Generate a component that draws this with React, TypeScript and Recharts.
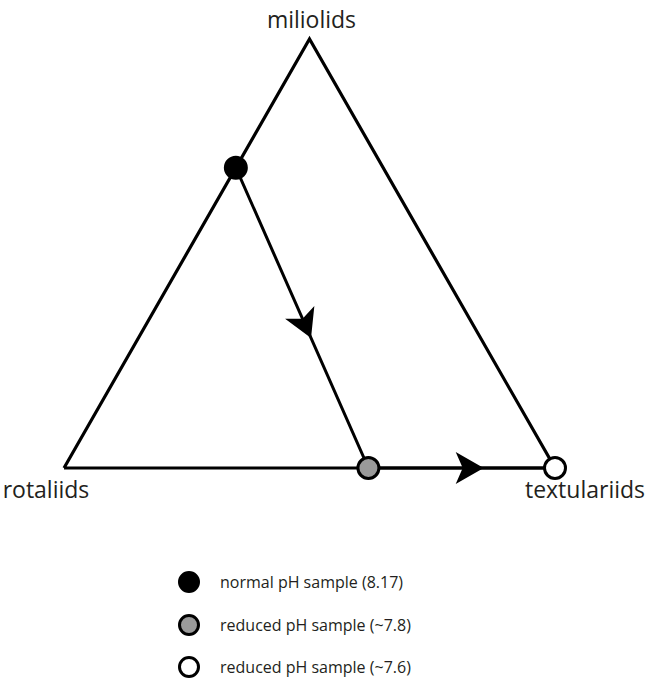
import { ComposedChart, Scatter, XAxis, YAxis, Legend } from 'recharts'

// end members of the ternary plot
const cornerNames = ['rotaliids', 'miliolids', 'textulariids']
const cornerMiliolids = [0, 1, 0]
const cornerTextulariids = [0, 0, 1]

// samples (fractions of the assemblage)
const sampleLabels = ['normal pH sample (8.17)', 'reduced pH sample (~7.8)', 'reduced pH sample (~7.6)']
const sampleMiliolids = [0.7, 0, 0]
const sampleRotaliids = [0.3, 0.38, 0]
const sampleTextulariids = [0, 0.62, 1]

const FONT = '"Open Sans", sans-serif'
const sampleFills = ['#000000', '#9a9a9a', '#ffffff']

// ternary -> cartesian (x across base, y = miliolid fraction)
const toXY = (m: number, t: number) => ({ x: t + m / 2, y: m })

const corners = cornerNames.map((name, i) => ({ name, ...toXY(cornerMiliolids[i], cornerTextulariids[i]) }))
const outline = [...corners, corners[0]]

const samples = sampleLabels.map((label, i) => ({
  label,
  fill: sampleFills[i],
  r: sampleRotaliids[i],
  ...toXY(sampleMiliolids[i], sampleTextulariids[i]),
}))

const labelOffsets: Record<string, { dx: number; dy: number }> = {
  miliolids: { dx: 2, dy: -11 },
  rotaliids: { dx: -18, dy: 30 },
  textulariids: { dx: 30, dy: 30 },
}

const CornerLabel = (props: any) => {
  const { cx, cy, payload } = props
  const o = labelOffsets[payload.name]
  return (
    <text x={cx + o.dx} y={cy + o.dy} textAnchor="middle" fontSize={23} fontFamily={FONT} fill="#231f20">
      {payload.name}
    </text>
  )
}

const SampleDot = (props: any) => {
  const { cx, cy, payload } = props
  return <circle cx={cx} cy={cy} r={10.5} fill={payload.fill} stroke="#000" strokeWidth={3} />
}

// path between samples, with an arrowhead half way along each step
const PathWithArrows = (props: any) => {
  const pts: { x: number; y: number }[] = props.points || []
  const d = pts.map((p, i) => `${i ? 'L' : 'M'}${p.x},${p.y}`).join(' ')
  const heads = pts.slice(1).map((p, i) => {
    const a = pts[i]
    const ang = (Math.atan2(p.y - a.y, p.x - a.x) * 180) / Math.PI
    const mx = (a.x + p.x) / 2
    const my = (a.y + p.y) / 2
    return (
      <g key={i} transform={`translate(${mx},${my}) rotate(${ang})`}>
        <path d="M22,0 L-6,-16 L1,0 L-6,16 Z" fill="#000" />
      </g>
    )
  })
  return (
    <g>
      <path d={d} fill="none" stroke="#000" strokeWidth={3} />
      {heads}
    </g>
  )
}

const SampleLegend = () => (
  <div style={{ fontFamily: FONT, fontSize: 16, color: '#231f20' }}>
    {samples.map((s) => (
      <div key={s.label} style={{ display: 'flex', alignItems: 'center', height: 42.5 }}>
        <svg width={24} height={24} style={{ marginRight: 19 }}>
          <circle cx={12} cy={12} r={9.5} fill={s.fill} stroke="#000" strokeWidth={3} />
        </svg>
        <span>{s.label}</span>
      </div>
    ))}
  </div>
)

export default function App() {
  return (
    <div style={{ position: 'absolute', left: 0, top: 0, width: 646, height: 680, background: '#fff' }}>
      <ComposedChart width={646} height={680} margin={{ top: 39, right: 91, bottom: 212, left: 64 }}>
        <XAxis type="number" dataKey="x" domain={[0, 1]} hide />
        <YAxis type="number" dataKey="y" domain={[0, 1]} hide />
        <Scatter
          data={outline}
          line={{ stroke: '#000', strokeWidth: 3.2 }}
          shape={() => <g />}
          isAnimationActive={false}
          legendType="none"
        />
        <Scatter data={corners} shape={CornerLabel} isAnimationActive={false} legendType="none" />
        <Scatter
          data={samples}
          line={PathWithArrows}
          shape={SampleDot}
          isAnimationActive={false}
          legendType="none"
        />
        <Legend
          layout="horizontal"
          verticalAlign="middle"
          align="center"
          wrapperStyle={{ position: 'absolute', left: 177, top: 561, width: 320 }}
          content={SampleLegend}
        />
      </ComposedChart>
    </div>
  )
}
